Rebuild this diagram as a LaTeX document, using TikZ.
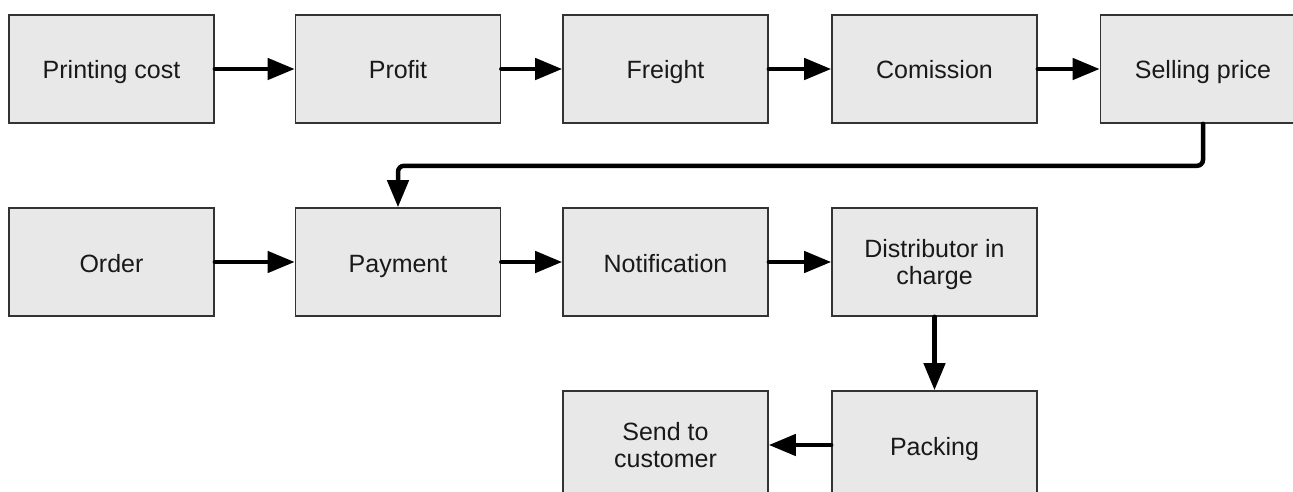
\documentclass[tikz,border=0pt]{standalone}
\usepackage{fontspec}
\setmainfont{Liberation Sans}
\usetikzlibrary{arrows.meta}
\begin{document}
\begin{tikzpicture}[x=1pt,y=-1pt,
  basebox/.style={draw=black!80, line width=1.6pt, fill=black!9, minimum width=205pt, minimum height=108pt,
    inner sep=0pt, align=center, text=black!90},
  box/.style={basebox, font=\fontsize{25pt}{30pt}\selectfont, text height=20pt, text depth=0pt},
  twoline/.style={basebox, font=\fontsize{25pt}{27.5pt}\selectfont, text height=45pt, text depth=0pt},
  conn/.style={line width=4.5pt, line cap=round, -{Triangle[length=27pt,width=21pt]}, rounded corners=6pt}]
\useasboundingbox (0,0) rectangle (1293,492);
\clip (0,0) rectangle (1293,492);
\node[box] (pc) at (111.5,69) {Printing cost};
\node[box] (pr) at (398,69) {Profit};
\node[box] (fr) at (665.5,69) {Freight};
\node[box] (co) at (934.5,69) {Comission};
\node[box] (sp) at (1203,69) {Selling price};
\node[box] (or) at (111.5,262) {Order};
\node[box] (pa) at (398,262) {Payment};
\node[box] (no) at (665.5,262) {Notification};
\node[twoline] (di) at (934.5,262) {Distributor in\\charge};
\node[twoline] (se) at (665.5,445) {Send to\\customer};
\node[box] (pk) at (934.5,445) {Packing};
\draw[conn] (pc) -- (pr);
\draw[conn] (pr) -- (fr);
\draw[conn] (fr) -- (co);
\draw[conn] (co) -- (sp);
\draw[conn] (sp.south) -- ++(0,42) -| (pa.north);
\draw[conn] (or) -- (pa);
\draw[conn] (pa) -- (no);
\draw[conn] (no) -- (di);
\draw[conn] (di) -- (pk);
\draw[conn] (pk) -- (se);
\end{tikzpicture}
\end{document}
